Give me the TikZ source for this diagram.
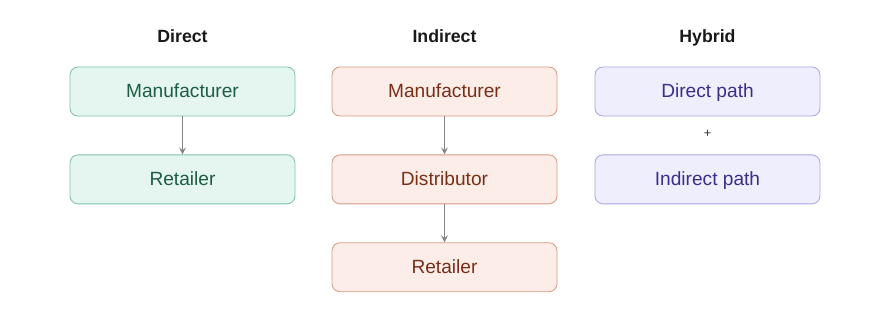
\documentclass[tikz,border=0pt]{standalone}
\usepackage{fontspec}
\setmainfont{Liberation Sans}
\usepackage{xcolor}
\usepackage{tikz}
\usetikzlibrary{arrows.meta, positioning}

\definecolor{greenfill}{HTML}{E4F6EF}
\definecolor{greendraw}{HTML}{7EC4A9}
\definecolor{greentext}{HTML}{1D5C45}
\definecolor{orangefill}{HTML}{FCEDE8}
\definecolor{orangedraw}{HTML}{D99A82}
\definecolor{orangetext}{HTML}{7A2E16}
\definecolor{purplefill}{HTML}{EFEEFC}
\definecolor{purpledraw}{HTML}{A9A5E6}
\definecolor{purpletext}{HTML}{3A2E8C}
\definecolor{arrowgray}{HTML}{858585}

\begin{document}
\begin{tikzpicture}[
        node distance=0.95cm,
        box/.style={rectangle, rounded corners=0.2cm, line width=0.6pt, minimum width=5.625cm, minimum height=1.225cm, inner sep=0pt, text height=2.1ex, text depth=0.4ex, font=\fontsize{13.6}{16}\selectfont, align=center},
        greenbox/.style={box, draw=greendraw, fill=greenfill, text=greentext},
        orangebox/.style={box, draw=orangedraw, fill=orangefill, text=orangetext},
        purplebox/.style={box, draw=purpledraw, fill=purplefill, text=purpletext},
        title/.style={font=\fontsize{12.6}{15}\selectfont\bfseries, text=black!90, text height=2.1ex, text depth=0.4ex},
        arrow/.style={-{Stealth[length=5pt, width=5pt, inset=2pt]}, draw=arrowgray, line width=0.8pt}
    ]
        \useasboundingbox (0,0) rectangle (22.275,-8.05);

        % Titles
        \node[title] (tdirect) at (4.5625,-0.9) {Direct};
        \node[title] (tindirect) at (11.1125,-0.9) {Indirect};
        \node[title] (thybrid) at (17.6875,-0.9) {Hybrid};

        % Direct
        \node[greenbox] (dmanu) at (4.5625,-2.2875) {Manufacturer};
        \node[greenbox, below=of dmanu] (dretail) {Retailer};

        % Indirect
        \node[orangebox] (imanu) at (11.1125,-2.2875) {Manufacturer};
        \node[orangebox, below=of imanu] (idist) {Distributor};
        \node[orangebox, below=of idist] (iretail) {Retailer};

        % Hybrid
        \node[purplebox] (hdirect) at (17.6875,-2.2875) {Direct path};
        \node[purplebox, below=of hdirect] (hindirect) {Indirect path};
        \path (hdirect) -- node[font=\small, text=black!80, yshift=0.05cm] (hplus) {+} (hindirect);

        % Arrows
        \draw[arrow] (dmanu) -- (dretail);
        \draw[arrow] (imanu) -- (idist);
        \draw[arrow] (idist) -- (iretail);
    \end{tikzpicture}
\end{document}
